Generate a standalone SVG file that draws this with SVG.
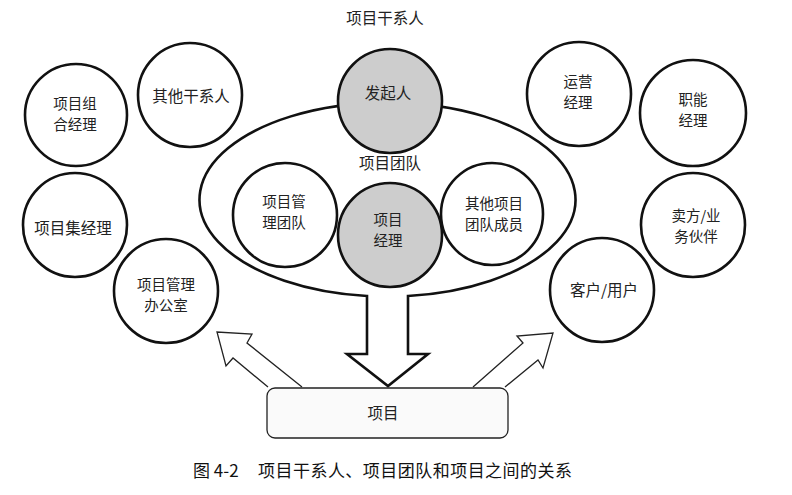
<svg xmlns="http://www.w3.org/2000/svg" width="792" height="495" viewBox="0 0 792 495">
<style>
.c{fill:#fff;stroke:#111;stroke-width:2.6}
.g{fill:#cdcdcd;stroke:#111;stroke-width:2.6}
.t{font-family:"Noto Sans CJK SC","Liberation Sans",sans-serif;font-size:14.5px;fill:#222;text-anchor:middle}
.s{font-size:15.5px}
.ha{fill:#fff;stroke:#222;stroke-width:1.3;stroke-linejoin:miter}
.big{fill:#fff;stroke:#111;stroke-width:2.6;stroke-linejoin:miter}
.cap{font-family:"Noto Sans CJK SC","Liberation Serif",serif;font-size:17px;fill:#111}
</style>
<rect width="792" height="495" fill="#fff"/>
<text class="t s" x="385" y="24">项目干系人</text>
<g id="connectors">
<path id="team-arrow" class="big" d="M367,296 L367,354 L347,354 L388,386 L428,354 L408,354 L408,296 A188,97 0 1 0 367,296 Z"/>
<path id="arrow-left" class="ha" d="M268,387 L233,358 L226,366 L217,332 L252,334 L247,343 L302,387"/>
<path id="arrow-right" class="ha" d="M473,387 L523,343 L517,336 L553,333 L543,368 L538,360 L505,387"/>
</g>
<text class="t s" x="390" y="169">项目团队</text>
<g id="project">
<rect x="267" y="388" width="241" height="50" rx="8" fill="#fafafa" stroke="#222" stroke-width="1.3"/>
<text class="t s" x="383" y="419">项目</text>
</g>
<g id="portfolio-manager"><circle class="c" cx="76" cy="115" r="51"/><text class="t" x="75" y="109">项目组</text><text class="t" x="75" y="130">合经理</text></g>
<g id="other-stakeholders"><circle class="c" cx="190" cy="95" r="52"/><text class="t s" x="191" y="102">其他干系人</text></g>
<g id="program-manager"><circle class="c" cx="75" cy="225" r="52"/><text class="t s" x="73" y="234">项目集经理</text></g>
<g id="pmo"><circle class="c" cx="166" cy="291" r="52"/><text class="t" x="166" y="289.5">项目管理</text><text class="t" x="166" y="310.5">办公室</text></g>
<g id="sponsor"><circle class="g" cx="390" cy="101" r="52"/><text class="t s" x="388" y="99">发起人</text></g>
<g id="pm-team"><circle class="c" cx="285" cy="215" r="52"/><text class="t" x="284" y="207">项目管</text><text class="t" x="284" y="228">理团队</text></g>
<g id="project-manager"><circle class="g" cx="390" cy="235" r="52"/><text class="t" x="388" y="224.5">项目</text><text class="t" x="388" y="245.5">经理</text></g>
<g id="other-team"><circle class="c" cx="492" cy="214" r="51"/><text class="t" x="494" y="208.5">其他项目</text><text class="t" x="494" y="229.5">团队成员</text></g>
<g id="operations-manager"><circle class="c" cx="579" cy="94" r="52"/><text class="t" x="578" y="87">运营</text><text class="t" x="578" y="108">经理</text></g>
<g id="functional-manager"><circle class="c" cx="693" cy="113" r="53"/><text class="t" x="693" y="104.5">职能</text><text class="t" x="693" y="125.5">经理</text></g>
<g id="sellers"><circle class="c" cx="693" cy="225" r="52"/><text class="t" x="696" y="220.5">卖方/业</text><text class="t" x="696" y="241.5">务伙伴</text></g>
<g id="customers"><circle class="c" cx="602" cy="290" r="52"/><text class="t s" x="604" y="296">客户/用户</text></g>
<text class="cap" x="193" y="477">图 4-2</text>
<text class="cap" x="258" y="477" textLength="314">项目干系人、项目团队和项目之间的关系</text>
</svg>
